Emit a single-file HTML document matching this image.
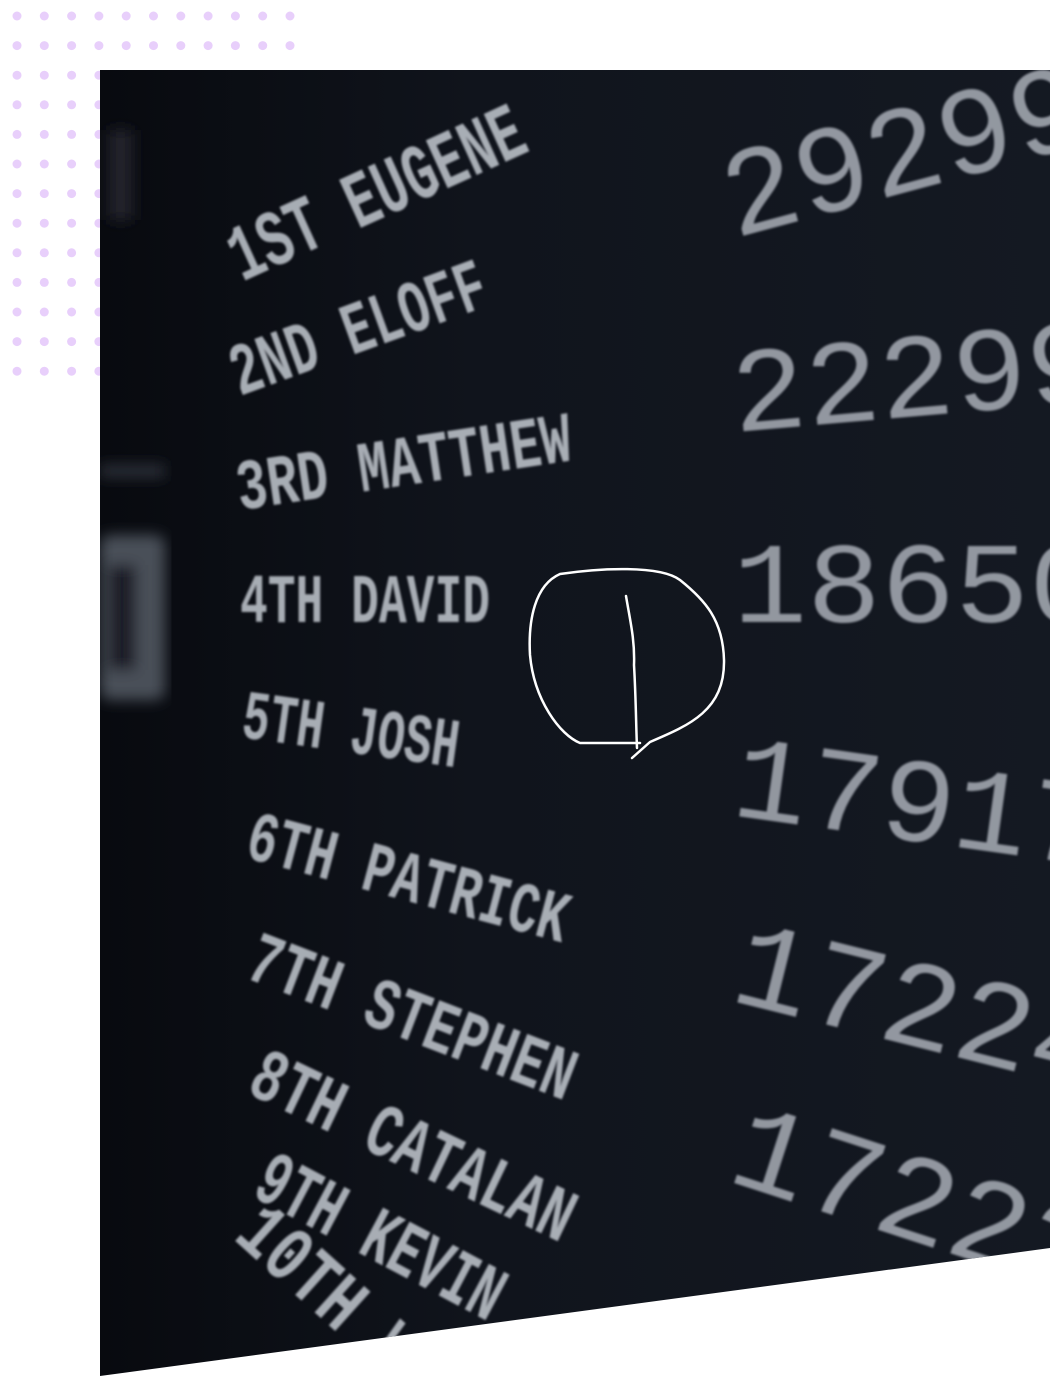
<!DOCTYPE html>
<html><head><meta charset="utf-8">
<style>
html,body{margin:0;padding:0;background:#fff;}
svg{display:block;}
.n{font-family:"Liberation Mono",monospace;font-weight:bold;fill:#c4c9d1;opacity:.85;}
.num{font-family:"Liberation Mono",monospace;font-weight:normal;fill:#c4c9d1;opacity:.72;}
</style></head>
<body>
<svg width="1050" height="1376" viewBox="0 0 1050 1376">
<defs>
<clipPath id="panelclip"><polygon points="100,70 1050,70 1050,1248 100,1376"/></clipPath>
<linearGradient id="pg" x1="0" y1="0" x2="1" y2="0">
<stop offset="0" stop-color="#080a0f"/><stop offset="0.4" stop-color="#10141c"/><stop offset="1" stop-color="#141922"/>
</linearGradient>
<filter id="blur"><feGaussianBlur stdDeviation="7"/></filter>
<filter id="soft"><feGaussianBlur stdDeviation="1"/></filter>
</defs>
<g id="dots"></g>
<polygon points="100,70 1050,70 1050,1248 100,1376" fill="url(#pg)"/>
<g clip-path="url(#panelclip)">
 <g filter="url(#blur)">
  <rect x="100" y="535" width="65" height="165" rx="10" fill="#4a5059"/>
  <rect x="108" y="565" width="28" height="105" fill="#1a1e25"/>
  <rect x="100" y="465" width="65" height="12" fill="#2e333b"/>
  <rect x="108" y="130" width="25" height="90" fill="#20242b"/>
 </g>
 <g filter="url(#soft)">
 <text class="n" transform="translate(242,282) rotate(-24.5)" font-size="80" textLength="318" lengthAdjust="spacingAndGlyphs">1ST EUGENE</text>
 <text class="n" transform="translate(240,396) rotate(-20)" font-size="74" textLength="268" lengthAdjust="spacingAndGlyphs">2ND ELOFF</text>
 <text class="n" transform="translate(240,510) rotate(-8.5)" font-size="72" textLength="338" lengthAdjust="spacingAndGlyphs">3RD MATTHEW</text>
 <text class="n" transform="translate(240,622) rotate(0)" font-size="70" textLength="250" lengthAdjust="spacingAndGlyphs">4TH DAVID</text>
 <text class="n" transform="translate(240,737) rotate(8)" font-size="70" textLength="218" lengthAdjust="spacingAndGlyphs">5TH JOSH</text>
 <text class="n" transform="translate(243,857) rotate(15)" font-size="72" textLength="330" lengthAdjust="spacingAndGlyphs">6TH PATRICK</text>
 <text class="n" transform="translate(243,977) rotate(21)" font-size="74" textLength="345" lengthAdjust="spacingAndGlyphs">7TH STEPHEN</text>
 <text class="n" transform="translate(245,1092) rotate(25.5)" font-size="76" textLength="350" lengthAdjust="spacingAndGlyphs" opacity=".7">8TH CATALAN</text>
 <text class="n" transform="translate(250,1195) rotate(28)" font-size="78" textLength="270" lengthAdjust="spacingAndGlyphs">9TH KEVIN</text>
 <text class="n" transform="translate(232,1238) rotate(42)" font-size="80" textLength="250" lengthAdjust="spacingAndGlyphs">10TH WA</text>

 <text class="num" transform="translate(735,238) rotate(-15)" font-size="125" textLength="370" lengthAdjust="spacingAndGlyphs">29299</text>
 <text class="num" transform="translate(735,432) rotate(-5)" font-size="120" textLength="370" lengthAdjust="spacingAndGlyphs">22299</text>
 <text class="num" transform="translate(733,622) rotate(0)" font-size="115" textLength="370" lengthAdjust="spacingAndGlyphs" opacity=".6">18650</text>
 <text class="num" transform="translate(730,815) rotate(8)" font-size="120" textLength="370" lengthAdjust="spacingAndGlyphs">17917</text>
 <text class="num" transform="translate(728,1000) rotate(14)" font-size="125" textLength="380" lengthAdjust="spacingAndGlyphs">17224</text>
 <text class="num" transform="translate(725,1180) rotate(18)" font-size="125" textLength="380" lengthAdjust="spacingAndGlyphs">17223</text>
 </g>
</g>
<path d="M632,758 L650,742 C690,725 725,710 724,660 C723,620 705,600 680,580 C660,565 600,568 560,574 C535,585 528,620 530,655 C534,700 560,735 580,743 L640,743 M626,596 C630,620 635,640 634,665 C636,700 636,725 637,748" fill="none" stroke="#fff" stroke-width="2.5" stroke-linecap="round" stroke-linejoin="round"/>
</svg>
<script>
var g=document.getElementById('dots');
for(var r=0;r<13;r++){for(var c=0;c<11;c++){
var d=document.createElementNS('http://www.w3.org/2000/svg','circle');
d.setAttribute('cx',17+c*27.3);d.setAttribute('cy',16+r*29.6);d.setAttribute('r',4.5);d.setAttribute('fill','#e8cffb');


g.appendChild(d);}}
</script>
</body></html>
